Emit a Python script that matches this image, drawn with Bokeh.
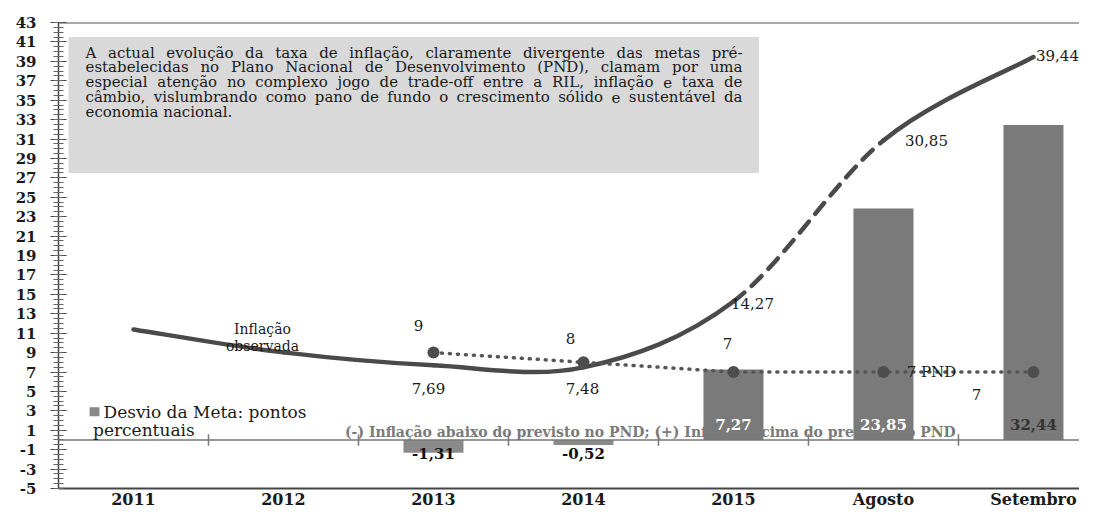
import glob
from bokeh.plotting import figure
from bokeh.models import Range1d, FixedTicker, Span, BoxAnnotation, Label, ColumnDataSource
from bokeh.embed import file_html
from bokeh.resources import INLINE
from bokeh.core.properties import value

# ---------------- data ----------------
categories = ["2011", "2012", "2013", "2014", "2015", "Agosto", "Setembro"]
inflation = [11.38, 9.02, 7.69, 7.48, 14.27, 30.85, 39.44]
pnd_categories = ["2013", "2014", "2015", "Agosto", "Setembro"]
pnd_target = [9, 8, 7, 7, 7]
deviation_categories = ["2013", "2014", "2015", "Agosto", "Setembro"]
deviation = [-1.31, -0.52, 7.27, 23.85, 32.44]
y_ticks = list(range(-5, 44, 2))
box_text = [
    "A actual evolução da taxa de inflação, claramente divergente das metas pré-",
    "estabelecidas no Plano Nacional de Desenvolvimento (PND), clamam por uma",
    "especial atenção no complexo jogo de trade-off entre a RIL, inflação e taxa de",
    "câmbio, vislumbrando como pano de fundo o crescimento sólido e sustentável da",
    "economia nacional.",
]
note_text = "(-) Inflação abaixo do previsto no PND; (+) Inflação acima do previsto no PND"

SERIF = value("DejaVu Serif")
idx = {c: i for i, c in enumerate(categories)}
fmt = lambda v: f"{v:.2f}".replace(".", ",")

p = figure(width=1079, height=511, x_range=Range1d(-0.5, 6.307), y_range=Range1d(-5, 43),
           output_backend="svg", toolbar_location=None,
           min_border_left=58, min_border_right=0, min_border_top=22, min_border_bottom=20)
p.outline_line_color = None
p.grid.visible = False
p.background_fill_color = "white"

# axes
p.xaxis.ticker = FixedTicker(ticks=list(range(len(categories))))
p.xaxis.major_label_overrides = {i: c for i, c in enumerate(categories)}
p.xaxis.major_tick_line_color = None
p.xaxis.major_tick_out = 0
p.xaxis.major_tick_in = 0
p.xaxis.minor_tick_line_color = None
p.xaxis.minor_tick_out = 0
p.xaxis.axis_line_color = "#444444"
p.xaxis.axis_line_width = 2
p.xaxis.major_label_text_font = "DejaVu Serif"
p.xaxis.major_label_text_font_style = "bold"
p.xaxis.major_label_text_font_size = "16px"
p.xaxis.major_label_text_color = "#1a1a1a"
p.xaxis.major_label_standoff = 1

minor = [t / 2 for t in range(-10, 87)]
p.yaxis.ticker = FixedTicker(ticks=y_ticks, minor_ticks=minor)
p.yaxis.major_label_overrides = {t: str(t) for t in y_ticks}
p.yaxis.axis_line_color = "#444444"
p.yaxis.axis_line_width = 1.5
p.yaxis.major_tick_in = 8
p.yaxis.major_tick_out = 8
p.yaxis.minor_tick_in = 5
p.yaxis.minor_tick_out = 5
p.yaxis.major_tick_line_color = "#444444"
p.yaxis.minor_tick_line_color = "#666666"
p.yaxis.major_label_text_font = "DejaVu Serif"
p.yaxis.major_label_text_font_style = "bold"
p.yaxis.major_label_text_font_size = "15px"
p.yaxis.major_label_text_color = "#1a1a1a"
p.yaxis.major_label_standoff = 14

p.add_layout(Span(location=43, dimension="width", line_color="#555555", line_width=2))
p.add_layout(Span(location=0, dimension="width", line_color="#777777", line_width=1.5))

# text box (justified text)
p.add_layout(BoxAnnotation(left=-0.433, right=4.17, top=41.5, bottom=27.5,
                           fill_color="#d9d9d9", fill_alpha=1, line_color=None, level="underlay"))
BOX_FS = 15
measure = None
try:
    from PIL import ImageFont
    cands = glob.glob("/usr/share/fonts/**/DejaVuSerif.ttf", recursive=True) + \
        glob.glob("/usr/**/DejaVuSerif.ttf", recursive=True)
    if cands:
        _f = ImageFont.truetype(cands[0], BOX_FS)
        measure = lambda s: _f.getlength(s)
except Exception:
    measure = None

text_left, text_right = -0.32, 4.06   # data units
px_per_x = 150.0
for k, line in enumerate(box_text):
    ypos = 39.9 - k * 1.53
    words = line.split(" ")
    last = k == len(box_text) - 1
    if measure is None or last or len(words) < 2:
        p.add_layout(Label(x=text_left, y=ypos, text=line, text_font="DejaVu Serif",
                           text_font_size=f"{BOX_FS}px", text_baseline="middle", text_color="#1a1a1a"))
        continue
    widths = [measure(w) for w in words]
    total_px = (text_right - text_left) * px_per_x
    gap = (total_px - sum(widths)) / (len(words) - 1)
    cur = 0.0
    for j, w in enumerate(words):
        if j == len(words) - 1:
            p.add_layout(Label(x=text_right, y=ypos, text=w, text_font="DejaVu Serif", text_align="right",
                               text_font_size=f"{BOX_FS}px", text_baseline="middle", text_color="#1a1a1a"))
        else:
            p.add_layout(Label(x=text_left + cur / px_per_x, y=ypos, text=w, text_font="DejaVu Serif",
                               text_font_size=f"{BOX_FS}px", text_baseline="middle", text_color="#1a1a1a"))
        cur += widths[j] + gap

# note under everything
p.text(x=[1.41], y=[0.8], text=[note_text], text_font=SERIF, text_font_style="bold",
       text_font_size="14px", text_baseline="middle", text_align="left", text_color="#7a7a7a")

# category boundary ticks on zero line
bx = [i + 0.5 for i in range(len(categories) - 1)]
p.segment(x0=bx, x1=bx, y0=[-0.6] * len(bx), y1=[0.6] * len(bx), line_color="#777777", line_width=1.5)

# bars
dx = [idx[c] for c in deviation_categories]
bar_colors = ["#8a8a8a" if v < 0 else "#7a7a7a" for v in deviation]
p.vbar(x=dx, top=deviation, bottom=0, width=0.4, fill_color=bar_colors, line_color=None)

# inflation curve (Catmull-Rom -> cubic bezier segments)
xs = list(range(len(inflation)))
pts = list(zip(xs, inflation))
segs = []
for i in range(len(pts) - 1):
    p0 = pts[i - 1] if i > 0 else pts[i]
    p1, p2 = pts[i], pts[i + 1]
    p3 = pts[i + 2] if i + 2 < len(pts) else pts[i + 1]
    c0 = (p1[0] + (p2[0] - p0[0]) / 6, p1[1] + (p2[1] - p0[1]) / 6)
    c1 = (p2[0] - (p3[0] - p1[0]) / 6, p2[1] - (p3[1] - p1[1]) / 6)
    segs.append((p1, c0, c1, p2))

def bez(sel, dash):
    d = dict(x0=[segs[i][0][0] for i in sel], y0=[segs[i][0][1] for i in sel],
             cx0=[segs[i][1][0] for i in sel], cy0=[segs[i][1][1] for i in sel],
             cx1=[segs[i][2][0] for i in sel], cy1=[segs[i][2][1] for i in sel],
             x1=[segs[i][3][0] for i in sel], y1=[segs[i][3][1] for i in sel])
    p.bezier(source=ColumnDataSource(d), x0="x0", y0="y0", x1="x1", y1="y1",
             cx0="cx0", cy0="cy0", cx1="cx1", cy1="cy1",
             line_color="#4a4a4a", line_width=4.5, line_dash=dash, line_cap="round")

bez([0, 1, 2, 3], "solid")
bez([4], "14 10")
bez([5], "solid")

# PND target
px = [idx[c] for c in pnd_categories]
p.line(px, pnd_target, line_color="#555555", line_width=3.5, line_dash="1 7", line_cap="round")
p.scatter(px, pnd_target, size=12, fill_color="#4d4d4d", line_color=None)

# inflation labels
inf_lab_i = [2, 3, 4, 5, 6]
p.text(x=[xs[i] for i in inf_lab_i], y=[inflation[i] for i in inf_lab_i],
       text=[fmt(inflation[i]) for i in inf_lab_i],
       x_offset=[-5, -1, 19, 43, 24], y_offset=[23, 21, 2, 0, -2],
       text_font=SERIF, text_font_size="15px", text_align="center", text_baseline="middle",
       text_color="#1a1a1a")
p.text(x=[0.86, 0.86], y=[11.4, 9.66], text=["Inflação", "observada"], text_font=SERIF,
       text_font_size="14px", text_align="center", text_baseline="middle", text_color="#1a1a1a")

# PND labels
pnd_texts = [str(v) for v in pnd_target]
pnd_texts[3] = f"{pnd_target[3]} PND"
p.text(x=px, y=pnd_target, text=pnd_texts,
       x_offset=[-15, -13, -6, 48, -57], y_offset=[-27, -24, -29, 0, 22],
       text_font=SERIF, text_font_size="15px", text_align="center", text_baseline="middle",
       text_color="#1a1a1a")

# bar labels
p.text(x=dx, y=[0] * len(dx), text=[fmt(v) for v in deviation],
       y_offset=[14 if v < 0 else -15 for v in deviation],
       text_color=["#111111", "#111111", "white", "white", "#333333"],
       text_font=SERIF, text_font_style="bold", text_font_size="15px",
       text_align="center", text_baseline="middle")

# legend
p.add_layout(BoxAnnotation(left=-0.293, right=-0.227, top=3.36, bottom=2.44,
                           fill_color="#888888", fill_alpha=1, line_color=None))
p.add_layout(Label(x=-0.2, y=2.9, text="Desvio da Meta: pontos", text_font="DejaVu Serif",
                   text_font_size="17px", text_baseline="middle", text_color="#1a1a1a"))
p.add_layout(Label(x=-0.27, y=1.05, text="percentuais", text_font="DejaVu Serif",
                   text_font_size="17px", text_baseline="middle", text_color="#1a1a1a"))

open("out.html", "w").write(file_html(p, INLINE))
